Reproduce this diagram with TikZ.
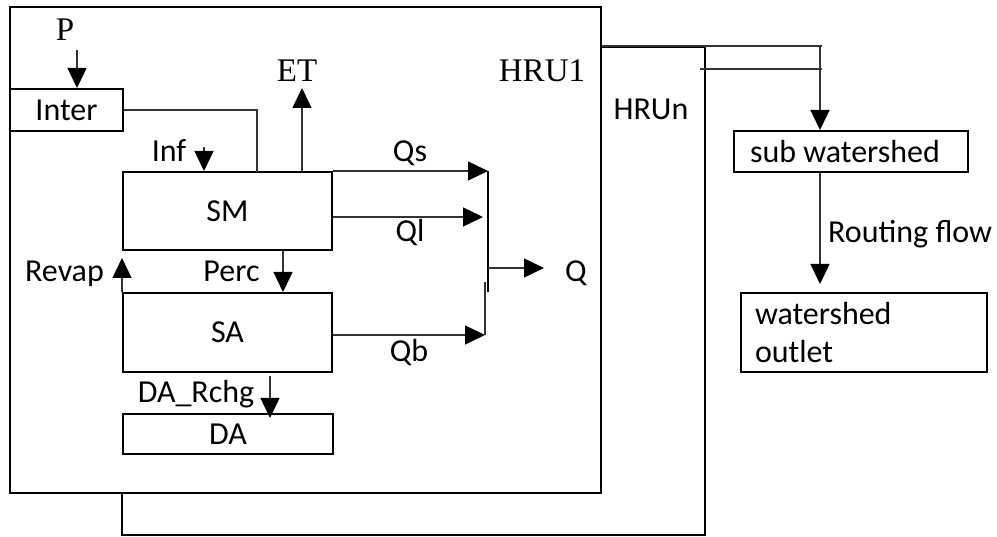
\documentclass[tikz,border=0pt]{standalone}
\usepackage{fontspec}
\setmainfont{Liberation Serif}
\newfontfamily\calfont{Carlito}
\usepackage{tikz}
\usetikzlibrary{positioning,arrows.meta}

\begin{document}
\begin{tikzpicture}[x=1pt,y=-1pt,
    box/.style={draw, line width=2pt, fill=white, inner sep=0pt, font=\calfont\fontsize{32}{38}\selectfont},
    sans/.style={font=\calfont\fontsize{32}{38}\selectfont, inner sep=0pt},
    serif/.style={font=\fontsize{33}{38}\selectfont, inner sep=0pt},
    flow/.style={draw=black!80, line width=1.4pt, -{Triangle[length=20pt,width=19pt,color=black]}},
    link/.style={draw=black!80, line width=1.4pt}]
    \useasboundingbox (0,0) rectangle (997,537);
    % HRU boxes
    \node[box, minimum width=583pt, minimum height=488pt] (hrun) at (413.5,291) {};
    \node[box, minimum width=591pt, minimum height=486pt] (hruone) at (305.5,250) {};
    % stores
    \node[box, minimum width=113pt, minimum height=42pt] (inter) at (66.5,110) {Inter};
    \node[box, minimum width=209pt, minimum height=78pt] (sm) at (227.5,211) {SM};
    \node[box, minimum width=209pt, minimum height=79pt] (sa) at (227.5,332.5) {SA};
    \node[box, minimum width=210pt, minimum height=40pt] (da) at (228,434) {DA};
    \node[box, minimum width=234pt, minimum height=41pt, text width=202pt, align=flush left, inner xsep=16pt] (sub) at (851,151.5) {sub watershed};
    \node[box, minimum width=246pt, minimum height=79pt, text width=218pt, align=flush left, inner xsep=14pt] (outlet) at (864,332.5) {watershed\\outlet};
    % labels
    \node[serif, anchor=base] (p) at (65,41) {P};
    \node[serif, anchor=base] (et) at (297,82) {ET};
    \node[serif, anchor=base] (hruonelbl) at (542,82) {HRU1};
    \node[sans, anchor=base] (hrunlbl) at (651,120) {HRUn};
    \node[sans, anchor=base] (inf) at (169,162) {Inf};
    \node[sans, anchor=base] (qs) at (410,162) {Qs};
    \node[sans, anchor=base] (ql) at (410,242) {Ql};
    \node[sans, anchor=base] (q) at (576,282) {Q};
    \node[sans, anchor=base] (revap) at (64.5,282) {Revap};
    \node[sans, anchor=base] (perc) at (231.5,282) {Perc};
    \node[sans, anchor=base] (qb) at (409,362) {Qb};
    \node[sans, anchor=base] (darchg) at (196,403) {DA\_Rchg};
    \node[sans, anchor=base west] (routing) at (828,243) {Routing flow};
    % points
    \coordinate (pin) at (77,50);
    \coordinate (intin) at (257,172);
    \coordinate (etout) at (302,88);
    \coordinate (infin) at (204,147);
    \coordinate (percx) at (283,0);
    \coordinate (drx) at (270,0);
    \coordinate (bartop) at (488,171);
    \coordinate (barbot) at (488,292);
    \coordinate (qfrom) at (488,268);
    \coordinate (qto) at (544,268);
    \coordinate (qlx) at (483,0);
    \coordinate (qbx) at (485,282);
    \coordinate (jn) at (820,46);
    \coordinate (jntwo) at (820,69);
    % connectors
    \draw[flow] (pin) -- (pin |- inter.north);
    \draw[link] (inter.east) -| (intin);
    \draw[flow] (sm.north -| etout) -- (etout);
    \draw[flow] (infin) -- (infin |- sm.north);
    \draw[flow] (sm.south -| percx) -- (sa.north -| percx);
    \draw[flow, shorten >=7pt] (sa.north west) -- (sm.south west);
    \draw[flow, shorten <=3pt, shorten >=-5pt] (sa.south -| drx) -- (da.north -| drx);
    \draw[flow] (sm.north east) -- (sm.north east -| bartop);
    \draw[flow] ([yshift=-6pt]sm.east) -- ([yshift=-6pt]sm.east -| qlx);
    \draw[flow] ([yshift=-2.5pt]sa.east) -- ([yshift=-2.5pt]sa.east -| qbx);
    \draw[link] (qbx) -- ([yshift=-2.5pt]sa.east -| qbx);
    \draw[line width=2pt] (bartop) -- (barbot);
    \draw[flow] (qfrom) -- (qto);
    \draw[link] (hruone.east |- jn) -- ([xshift=2pt]jn);
    \draw[link] ([xshift=-6pt]hrun.east |- jntwo) -- ([xshift=2pt]jntwo);
    \draw[flow] (jn) -- (jn |- sub.north);
    \draw[flow, shorten >=8pt] (sub.south -| jn) -- (outlet.north -| jn);
\end{tikzpicture}
\end{document}
